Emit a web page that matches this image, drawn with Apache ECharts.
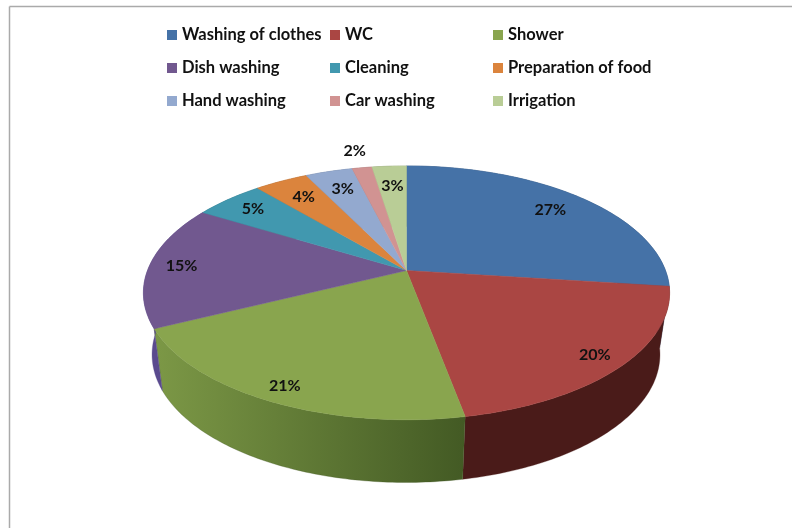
<!DOCTYPE html>
<html>
<head>
<meta charset="utf-8">
<style>
  html, body { margin: 0; padding: 0; background: #fff; }
  #chart { width: 792px; height: 528px; }
</style>
<script src="https://cdn.jsdelivr.net/npm/echarts@6/dist/echarts.min.js"></script>
</head>
<body>
<div id="chart"></div>
<script>
const categories = ['Washing of clothes', 'WC', 'Shower', 'Dish washing', 'Cleaning',
  'Preparation of food', 'Hand washing', 'Car washing', 'Irrigation'];
// slice sizes, printed labels are rounded
const shares = [27, 20, 20.8, 15.8, 5.1, 3.9, 3.45, 1.45, 2.5];
const percentLabels = ['27%', '20%', '21%', '15%', '5%', '4%', '3%', '2%', '3%'];
const colors = ['#4572a7', '#aa4643', '#89a54e', '#71588f', '#4198af',
  '#db843d', '#93a9cf', '#d19392', '#b9cd96'];
const wallColors = [
  ['#2b4568', '#2b4568'], ['#4a1b19', '#4a1b19'], ['#7c9846', '#435a24'],
  ['#5a4a8e', '#5a4a8e'], ['#28606e', '#28606e'], ['#8a5226', '#8a5226'],
  ['#5d6b83', '#5d6b83'], ['#845d5c', '#845d5c'], ['#75825f', '#75825f']
];
// how far out each percent label sits, 1 = pie rim
const labelRadius = [0.81, 0.89, 0.9, 0.875, 0.85, 0.8, 0.8, 1.2, 0.79];

// tilted disc: top face and bottom rim of the fake 3D pie
const topDisc = {cx: 406.5, cy: 270.5, a: 259, b: 123, k: 0.176};
const bottomDisc = {cx: 406, cy: 332, a: 250, b: 124, k: 0.176};

function project(disc, pct, r) {
  const ang = pct / 100 * Math.PI * 2;
  const u = r * Math.sin(ang);
  const v = r * Math.cos(ang);
  const d = 1 + disc.k * v;
  return [disc.cx + disc.a * u / d, disc.cy - disc.b * v / d];
}

function arc(disc, from, to) {
  const pts = [];
  const n = Math.max(2, Math.ceil((to - from) * 4));
  for(let i = 0; i <= n; i++) pts.push(project(disc, from + (to - from) * i / n, 1));
  return pts;
}

function renderSlice(idx) {
  return function (params, api) {
    const from = api.value(0);
    const to = api.value(1);
    const wall = wallColors[idx];
    const lp = project(topDisc, (from + to) / 2, labelRadius[idx]);
    return {
      type: 'group',
      children: [{
        type: 'polygon',
        z2: 1,
        shape: {points: arc(topDisc, from, to).concat(arc(bottomDisc, from, to).reverse())},
        style: {
          fill: {type: 'linear', x: 0, y: 0, x2: 1, y2: 0,
            colorStops: [{offset: 0, color: wall[0]}, {offset: 1, color: wall[1]}]},
          stroke: wall[1], lineWidth: 0.3
        }
      }, {
        type: 'polygon',
        z2: 5,
        shape: {points: [[topDisc.cx, topDisc.cy]].concat(arc(topDisc, from, to))},
        style: {fill: colors[idx], stroke: colors[idx], lineWidth: 0.5}
      }, {
        type: 'text',
        z2: 10,
        x: lp[0],
        y: lp[1],
        style: {
          text: percentLabels[idx],
          fill: '#111',
          font: 'bold 16px Lato',
          align: 'center',
          verticalAlign: 'middle'
        }
      }]
    };
  };
}

let running = 0;
const series = categories.map(function (name, i) {
  const start = running;
  running += shares[i];
  return {
    type: 'custom',
    name: name,
    coordinateSystem: 'none',
    renderItem: renderSlice(i),
    itemStyle: {color: colors[i]},
    data: [[start, running]],
    silent: true
  };
});

function legendColumn(left, names) {
  return {
    orient: 'vertical',
    left: left,
    top: 21,
    itemWidth: 10,
    itemHeight: 10,
    itemGap: 15,
    icon: 'rect',
    selectedMode: false,
    data: names,
    textStyle: {fontFamily: 'Lato', fontWeight: 'bold', fontSize: 16.5, color: '#111', lineHeight: 18}
  };
}

const chart = echarts.init(document.getElementById('chart'), null, {renderer: 'canvas'});
chart.setOption({
  animation: false,
  backgroundColor: '#fff',
  legend: [
    legendColumn(162, [categories[0], categories[3], categories[6]]),
    legendColumn(325, [categories[1], categories[4], categories[7]]),
    legendColumn(488, [categories[2], categories[5], categories[8]])
  ],
  graphic: [
    {type: 'line', shape: {x1: 9.5, y1: 6.5, x2: 792, y2: 6.5}, style: {stroke: '#aaa', lineWidth: 1.5}},
    {type: 'line', shape: {x1: 9.5, y1: 6.5, x2: 9.5, y2: 528}, style: {stroke: '#aaa', lineWidth: 1.5}}
  ],
  series: series
});
</script>
</body>
</html>
